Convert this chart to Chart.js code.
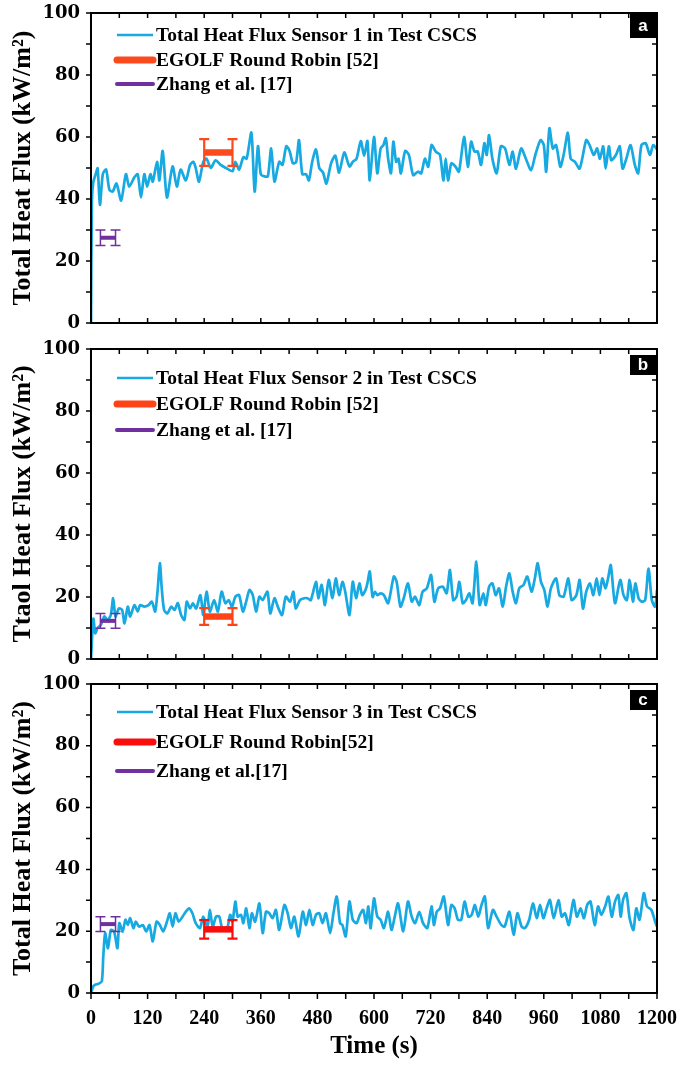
<!DOCTYPE html>
<html>
<head>
<meta charset="utf-8">
<script src="https://cdn.jsdelivr.net/npm/chart.js@4.4.0/dist/chart.umd.min.js"></script>
<style>
  body { margin: 0; background: #fff; width: 681px; height: 1065px; position: relative; overflow: hidden; }
  canvas { position: absolute; left: 0; }
</style>
</head>
<body>
<canvas id="chartA" width="681" height="335" style="top:0"></canvas>
<canvas id="chartB" width="681" height="335" style="top:336px"></canvas>
<canvas id="chartC" width="681" height="394" style="top:671px"></canvas>
<script>
// Sensor 1 (panel a)
const timeA = [0, 2, 5, 10, 14, 19, 25, 32, 39, 46, 54, 64, 74, 81, 92, 99, 106, 113, 119, 126, 131, 140, 145, 152, 161, 173, 182, 190, 201, 210, 217, 222, 229, 238, 245, 254, 264, 275, 286, 300, 306, 314, 323, 330, 340, 347, 354, 360, 368, 375, 382, 389, 399, 406, 414, 421, 428, 435, 441, 448, 456, 462, 469, 477, 484, 492, 499, 509, 518, 526, 537, 548, 555, 563, 572, 579, 586, 591, 600, 607, 614, 620, 625, 630, 636, 641, 647, 652, 657, 666, 674, 683, 693, 700, 708, 715, 722, 731, 740, 747, 752, 757, 764, 773, 780, 791, 799, 806, 813, 820, 827, 834, 839, 844, 851, 860, 869, 878, 887, 894, 901, 912, 922, 933, 942, 953, 960, 965, 972, 979, 986, 995, 1002, 1011, 1017, 1026, 1036, 1050, 1057, 1066, 1073, 1079, 1086, 1091, 1098, 1103, 1113, 1121, 1127, 1135, 1144, 1153, 1160, 1167, 1176, 1185, 1192, 1200];
const fluxA = [0, 40, 45.6, 48, 49.9, 38.1, 48, 49.5, 43, 42.4, 45, 39.5, 48, 44, 47, 48, 40.5, 48, 44, 48, 45.6, 52, 46, 55.5, 40.5, 50.5, 44, 49.5, 46, 51, 52, 50, 45.6, 52, 53, 50, 52.5, 51, 50, 49, 52, 49.5, 53.5, 53, 61.4, 42.4, 57, 48, 47.3, 47.3, 56.3, 45.6, 52, 51, 57, 55.5, 51.5, 52, 59, 48, 48, 46, 52, 56, 50, 48.5, 45, 51.5, 54, 48.5, 55, 50.5, 52, 53, 58.7, 54, 58.7, 46, 60, 48.3, 56.3, 57.4, 59.6, 53, 48.3, 58.5, 52, 53, 48.3, 55.5, 54.2, 47.7, 48.8, 48.3, 53, 50.4, 57.4, 55.3, 54.2, 46, 53, 46, 51.5, 50.4, 48.8, 60, 50.4, 58.5, 55.3, 55.3, 51, 58, 54.2, 60.6, 53, 48.3, 57, 56.3, 51, 55.3, 49.8, 56.3, 53, 49.3, 54.2, 59, 57.4, 48.8, 62.8, 56.3, 57.4, 50.4, 54.2, 61.4, 53, 52, 49.8, 59, 57.4, 54.2, 56.3, 53, 57, 49.8, 57, 52.5, 54.2, 57, 49.8, 53, 57.4, 51, 48.3, 57.4, 58, 54.2, 57.4, 56];

// Sensor 2 (panel b)
const timeB = [0, 5, 9, 14, 21, 28, 35, 42, 47, 52, 59, 66, 71, 78, 83, 92, 99, 104, 113, 122, 129, 136, 141, 146, 150, 155, 162, 170, 177, 184, 191, 198, 203, 210, 216, 223, 232, 238, 245, 252, 261, 269, 277, 285, 292, 299, 306, 314, 322, 329, 336, 343, 350, 357, 364, 374, 380, 389, 396, 405, 413, 422, 429, 434, 443, 452, 459, 466, 477, 482, 489, 496, 504, 512, 519, 526, 533, 539, 548, 555, 562, 569, 575, 582, 586, 591, 597, 602, 607, 614, 621, 630, 642, 648, 656, 663, 672, 680, 687, 696, 703, 712, 721, 728, 736, 746, 754, 761, 768, 775, 781, 788, 795, 802, 809, 817, 824, 832, 837, 844, 851, 858, 865, 873, 880, 887, 894, 901, 908, 917, 925, 934, 941, 947, 954, 961, 968, 975, 986, 993, 1002, 1012, 1019, 1029, 1036, 1043, 1050, 1058, 1065, 1072, 1078, 1084, 1091, 1097, 1102, 1111, 1122, 1129, 1136, 1142, 1149, 1154, 1161, 1168, 1175, 1182, 1189, 1196, 1200];
const fluxB = [0, 13, 8.3, 10, 11, 13.7, 12.6, 14.2, 19.6, 13.7, 16.3, 15.8, 11.5, 16.9, 13.7, 17.4, 15.3, 17.4, 16.9, 17.4, 18.5, 15.3, 21.7, 30.9, 22.8, 15.8, 14.7, 16.9, 15.8, 18, 14.2, 12.6, 18.5, 16.3, 18, 16.3, 20.6, 14.2, 21.7, 15.3, 19, 15.3, 21.7, 18, 19, 16.9, 20.1, 20.6, 15.3, 18.5, 22.3, 20.6, 15.3, 20.1, 19, 21.7, 14.7, 19.6, 16.9, 14.2, 20.1, 18.5, 21.7, 16.3, 19, 19.6, 19.6, 19, 24.9, 19.6, 23.9, 17.4, 25.5, 19.6, 26, 20.6, 24.9, 21.7, 14.2, 24.9, 19.6, 24.4, 20.6, 22.3, 24.4, 28.2, 20, 21.7, 20.6, 21.2, 20.6, 18, 26.6, 24.9, 16.9, 19.6, 24.4, 18.5, 20.1, 17.4, 21.7, 22.8, 27.1, 18.5, 22.8, 23.3, 21.2, 28.7, 19, 20.1, 24.9, 18, 19, 21.2, 18, 31.4, 17.4, 21.2, 17.4, 23.3, 24.4, 20.6, 22.8, 16.9, 23.3, 27.6, 21.7, 18, 22.8, 23.9, 26.6, 21.7, 26, 30.9, 24.9, 22.3, 16.9, 22.8, 26, 20.6, 20.1, 26, 19, 20.6, 25.5, 16.3, 21.7, 24.4, 20.6, 26, 20.6, 26, 22.8, 26.6, 30.3, 18, 25.5, 20.6, 19, 25.5, 18.5, 24.4, 19.6, 18.5, 19, 29.2, 19, 16.9, 22.3];

// Sensor 3 (panel c)
const timeC = [0, 5, 9, 16, 23, 26, 30, 36, 42, 49, 56, 60, 67, 73, 78, 83, 90, 95, 102, 110, 117, 124, 131, 139, 146, 153, 160, 167, 173, 179, 186, 194, 201, 208, 215, 222, 231, 238, 247, 252, 258, 265, 272, 279, 288, 295, 300, 306, 311, 318, 323, 329, 336, 341, 348, 357, 364, 371, 378, 385, 392, 399, 410, 417, 424, 431, 440, 449, 456, 463, 470, 477, 484, 491, 498, 507, 514, 521, 528, 533, 540, 548, 555, 563, 570, 577, 583, 588, 593, 600, 607, 614, 621, 630, 637, 644, 651, 662, 672, 680, 687, 696, 704, 713, 722, 727, 733, 740, 748, 757, 764, 771, 778, 785, 792, 800, 807, 814, 821, 828, 835, 842, 852, 860, 870, 877, 887, 896, 904, 913, 920, 929, 937, 945, 952, 959, 966, 973, 981, 991, 998, 1005, 1013, 1023, 1030, 1038, 1045, 1052, 1059, 1068, 1075, 1082, 1090, 1097, 1104, 1111, 1118, 1123, 1128, 1135, 1142, 1150, 1156, 1163, 1172, 1179, 1188, 1197, 1200];
const fluxC = [0, 2.2, 2.7, 3, 3.8, 11.8, 19.4, 14.5, 20.4, 19.9, 14.5, 22.6, 19.9, 23.7, 22, 24.2, 21, 23.1, 21.5, 22, 19.9, 22, 16.7, 23.1, 22, 19.9, 22.6, 25.8, 21.5, 25.8, 23.1, 24.7, 26.3, 27.4, 25.8, 22.6, 21, 24.7, 21.5, 26.9, 21.5, 24.7, 24.7, 20.4, 20.4, 25.3, 23.1, 29.6, 24.7, 25.3, 22.6, 27.4, 21, 25.8, 23.1, 29, 19.4, 26.3, 25.8, 24.2, 26.9, 20.4, 28.5, 25.8, 21, 24.7, 18.3, 26.3, 22, 26.9, 22, 25.3, 25.8, 22.6, 25.8, 19.4, 25.8, 31.2, 22.6, 22, 18.3, 29.6, 23.7, 22.6, 25.3, 26.9, 22.6, 28, 21, 30.6, 24.7, 23.7, 21, 26.3, 20.4, 24.7, 29, 19.9, 29.6, 24.7, 22.6, 26.3, 22.6, 21, 28, 22, 26.3, 27.4, 31.2, 22, 28.5, 27.4, 23.7, 23.7, 29.6, 24.7, 25.3, 28.5, 24.7, 28.5, 31.2, 21, 26.9, 24.7, 22, 21.5, 26.3, 18.8, 25.8, 21.5, 21, 23.7, 29, 24.2, 28.5, 24.2, 27.4, 30.1, 24.2, 30.1, 24.7, 25.8, 22, 30.1, 24.7, 27.4, 24.2, 28.5, 29.6, 22, 28, 25.3, 28, 31.2, 24.7, 29.6, 31.7, 24.7, 30.1, 32.3, 24.2, 20.4, 27.4, 23.7, 32.3, 28, 26.9, 22.6, 21.5];

// Reference measurements: [mean, error] per panel a, b, c
const egolfTime = [240, 300];
const egolfMean = [55, 13.7, 20.6];
const egolfErr = [4.3, 2.7, 3.0];
const zhangTime = [20, 52];
const zhangMean = [27.5, 12.3, 22.3];
const zhangErr = [2.5, 2.4, 2.4];

const xTicks = [0, 120, 240, 360, 480, 600, 720, 840, 960, 1080, 1200];
const yTicks = [0, 20, 40, 60, 80, 100];

const blue = '#17a9e1';
const purple = '#7030a0';

// frame, tick marks, error whiskers, legend and panel letter
const panelDecor = {
    id: 'panelDecor',
    afterDatasetsDraw(chart) {
        const { ctx, scales: { x, y } } = chart;
        chart.data.datasets.forEach(ds => {
            if (ds.err == null) return;
            ctx.save();
            ctx.strokeStyle = ds.borderColor;
            ctx.lineWidth = ds.whiskerWidth;
            ds.data.forEach(pt => {
                const px = x.getPixelForValue(pt.x);
                const top = y.getPixelForValue(pt.y + ds.err);
                const bot = y.getPixelForValue(pt.y - ds.err);
                ctx.beginPath();
                ctx.moveTo(px, top); ctx.lineTo(px, bot);
                ctx.moveTo(px - 5, top); ctx.lineTo(px + 5, top);
                ctx.moveTo(px - 5, bot); ctx.lineTo(px + 5, bot);
                ctx.stroke();
            });
            ctx.restore();
        });
    },
    afterDraw(chart, args, opts) {
        const { ctx, chartArea: a, scales: { x, y } } = chart;
        ctx.save();
        ctx.strokeStyle = '#000';
        ctx.lineWidth = 2;
        ctx.strokeRect(a.left, a.top, a.right - a.left, a.bottom - a.top);

        // tick marks
        ctx.lineWidth = 1.5;
        ctx.beginPath();
        for (let t = 0; t <= 1200; t += 60) {
            const px = x.getPixelForValue(t);
            ctx.moveTo(px, a.top); ctx.lineTo(px, a.top + 5);
            if (opts.ticksOut) { ctx.moveTo(px, a.bottom); ctx.lineTo(px, a.bottom + 6); }
            else { ctx.moveTo(px, a.bottom); ctx.lineTo(px, a.bottom - 5); }
        }
        for (let v = 0; v <= 100; v += 10) {
            const py = y.getPixelForValue(v);
            ctx.moveTo(a.left - 5, py); ctx.lineTo(a.left, py);
            ctx.moveTo(a.right, py); ctx.lineTo(a.right - 5, py);
        }
        ctx.stroke();

        // legend
        const ds = chart.data.datasets;
        ctx.font = 'bold 19.5px "Liberation Serif"';
        ctx.textBaseline = 'middle';
        ctx.fillStyle = '#000';
        opts.legendY.forEach((off, i) => {
            const ly = a.top + off;
            ctx.strokeStyle = ds[i].borderColor;
            ctx.lineWidth = ds[i].legendWidth;
            ctx.lineCap = i === 0 ? 'butt' : 'round';
            ctx.beginPath();
            ctx.moveTo(a.left + 26, ly); ctx.lineTo(a.left + 62, ly);
            ctx.stroke();
            ctx.fillText(ds[i].label, a.left + 65, ly + 1);
        });

        // panel letter
        ctx.fillStyle = '#000';
        ctx.fillRect(a.right - 27, a.top + opts.boxTop, 26, opts.boxH);
        ctx.fillStyle = '#fff';
        ctx.font = 'bold 17px "Liberation Sans"';
        ctx.textAlign = 'center';
        ctx.fillText(opts.letter, a.right - 14, a.top + opts.boxTop + opts.boxH / 2);
        ctx.restore();
    }
};

const makePanel = (id, p) => {
    const i = p.idx;
    return new Chart(document.getElementById(id), {
        type: 'line',
        data: {
            datasets: [
                {
                    label: p.sensorLabel,
                    data: p.time.map((t, k) => ({ x: t, y: p.flux[k] })),
                    borderColor: blue, borderWidth: 2.7, pointRadius: 0, tension: 0.25,
                    legendWidth: 2.5, order: 3
                },
                {
                    label: p.egolfLabel,
                    data: egolfTime.map(t => ({ x: t, y: egolfMean[i] })),
                    borderColor: p.egolfColor, borderWidth: 6.5, pointRadius: 0,
                    err: egolfErr[i], whiskerWidth: 2.2, legendWidth: 7, order: 1
                },
                {
                    label: p.zhangLabel,
                    data: zhangTime.map(t => ({ x: t, y: zhangMean[i] })),
                    borderColor: purple, borderWidth: 4, pointRadius: 0,
                    err: zhangErr[i], whiskerWidth: 1.5, legendWidth: 4, order: 2
                }
            ]
        },
        options: {
            responsive: false,
            animation: false,
            layout: { padding: { left: 0, right: 24, top: 13, bottom: 0 } },
            plugins: {
                legend: { display: false },
                tooltip: { enabled: false },
                panelDecor: { legendY: p.legendY, letter: p.letter, boxTop: p.boxTop, boxH: p.boxH, ticksOut: p.showTime }
            },
            scales: {
                x: {
                    type: 'linear', min: 0, max: 1200,
                    grid: { display: false, drawTicks: true, tickLength: 14 },
                    border: { display: false },
                    afterBuildTicks: s => { s.ticks = xTicks.map(v => ({ value: v })); },
                    ticks: {
                        display: p.showTime, autoSkip: false, maxRotation: 0, padding: 0, color: '#000',
                        callback: v => String(v),
                        font: { family: 'Liberation Serif', weight: 'bold', size: 20 }
                    },
                    title: {
                        display: p.showTime, text: 'Time (s)', color: '#000', padding: { top: 0, bottom: 3 },
                        font: { family: 'Liberation Serif', weight: 'bold', size: 25 }
                    },
                    afterFit: s => { s.height = p.showTime ? 72 : 12; }
                },
                y: {
                    min: 0, max: 100,
                    grid: { display: false, drawTicks: true, tickLength: 11 },
                    border: { display: false },
                    afterBuildTicks: s => { s.ticks = yTicks.map(v => ({ value: v })); },
                    ticks: {
                        padding: 0, color: '#000',
                        callback: v => String(v),
                        font: { family: 'DejaVu Serif', weight: 'bold', size: 18 }
                    },
                    title: {
                        display: true, text: p.yTitle, color: '#000', padding: { top: 8, bottom: 0 },
                        font: { family: 'Liberation Serif', weight: 'bold', size: 26 }
                    },
                    afterFit: s => { s.width = 91; }
                }
            }
        },
        plugins: [panelDecor]
    });
};

makePanel('chartA', {
    idx: 0, time: timeA, flux: fluxA, letter: 'a',
    sensorLabel: 'Total Heat Flux Sensor 1 in Test CSCS',
    egolfLabel: 'EGOLF Round Robin [52]', zhangLabel: 'Zhang et al. [17]',
    egolfColor: '#fb4a1e', yTitle: 'Total Heat Flux (kW/m²)',
    legendY: [22, 47, 71], boxTop: 1, boxH: 24, showTime: false
});
makePanel('chartB', {
    idx: 1, time: timeB, flux: fluxB, letter: 'b',
    sensorLabel: 'Total Heat Flux Sensor 2 in Test CSCS',
    egolfLabel: 'EGOLF Round Robin [52]', zhangLabel: 'Zhang et al. [17]',
    egolfColor: '#ff4317', yTitle: 'Ttaol Heat Flux (kW/m²)',
    legendY: [29, 55, 81], boxTop: 6, boxH: 20, showTime: false
});
makePanel('chartC', {
    idx: 2, time: timeC, flux: fluxC, letter: 'c',
    sensorLabel: 'Total Heat Flux Sensor 3 in Test CSCS',
    egolfLabel: 'EGOLF Round Robin[52]', zhangLabel: 'Zhang et al.[17]',
    egolfColor: '#fa0d0d', yTitle: 'Total Heat Flux (kW/m²)',
    legendY: [28, 58, 87], boxTop: 6, boxH: 20, showTime: true
});
</script>
</body>
</html>
